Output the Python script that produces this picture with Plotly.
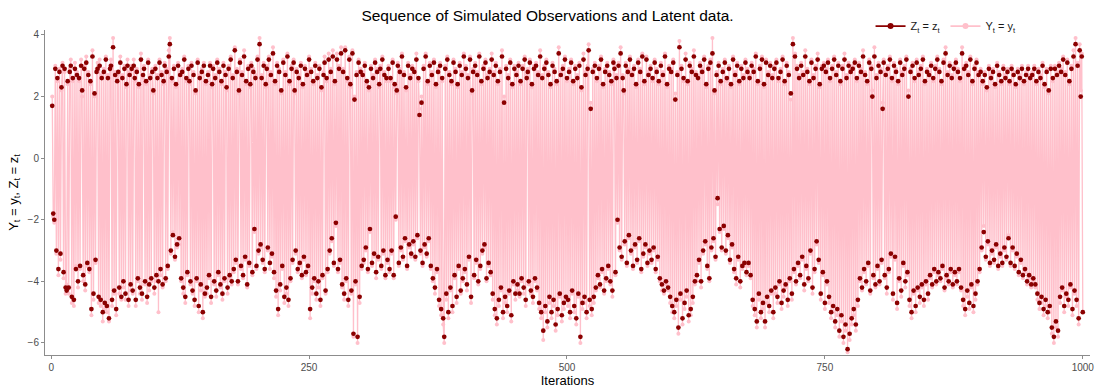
import plotly.graph_objects as go

# Latent states Z_t (dark red points), iterations 1..1000
z_latent = [
    1.7, -1.8, -2.0, 2.9, -3.0, 2.6, -3.6, 2.8, -3.1, 2.3, 3.0, -3.7, 2.9, -4.2, -4.3, 2.5, -4.2, 2.8, 3.0, -4.5, 2.6, -4.6, 2.9, -3.6, 2.7,
    -4.0, 2.6, -3.5, 3.0, 2.2, -3.8, 2.9, -4.1, 3.1, -3.4, 2.7, -3.6, 2.5, -4.9, 3.3, -4.4, 2.1, -3.3, 2.8, 2.9, -4.5, 3.0, -4.6, 2.6, -5.0,
    2.8, -4.7, 3.2, -4.8, 2.6, -5.2, 2.9, 3.0, -4.6, 3.6, -4.3, 2.7, -4.9, 2.5, 2.8, -4.2, 3.1, -4.5, 2.6, -4.0, 2.9, -4.4, 2.4, 3.0, -4.6,
    2.7, -4.1, 2.9, -4.3, 3.0, 2.6, -4.6, 2.8, -3.9, 2.4, -4.2, 3.2, -4.4, 2.7, 2.9, -4.0, 2.5, -4.5, 3.1, -4.1, 2.6, -3.9, 2.8, 2.2, -4.2,
    2.9, -3.8, 2.6, -4.0, 3.1, -3.6, 2.7, -4.1, 2.5, 3.0, -3.9, 2.8, -3.5, 3.3, 3.7, -3.0, 2.6, -2.5, 2.9, -3.2, 2.4, -2.8, 3.0, -2.6, 2.7,
    -3.9, 2.8, -4.2, 3.2, -4.5, 2.6, -3.7, 2.9, 2.5, -4.0, 3.0, -4.3, 2.7, -4.6, 2.2, -3.9, 3.1, -4.8, 2.6, -4.1, 2.8, -5.0, 3.0, -4.4, 2.5,
    -4.2, 2.7, -3.8, 3.0, -4.5, 2.4, 2.9, -4.0, 2.6, -4.3, 3.1, -3.7, 2.8, -4.1, 2.5, -4.4, 3.0, -3.9, 2.7, 2.3, -4.2, 2.9, -3.8, 3.2, -4.0,
    2.6, -3.6, 3.5, -3.3, 2.8, -4.0, 2.2, 3.1, -3.5, 2.7, -3.8, 3.3, -3.2, 2.5, -4.1, 2.9, -3.4, 2.4, 3.0, -3.7, 2.8, -2.3, 2.6, -3.5, 3.2,
    -3.0, 3.7, -2.8, 2.6, -3.3, 3.0, -3.6, 2.4, 2.9, -2.9, 3.2, -3.4, 2.7, -3.1, 3.4, -3.7, 2.5, -4.3, 3.0, -4.9, 2.8, -4.1, 2.2, -3.5, 3.1,
    -4.5, 2.7, -4.2, 3.3, -4.6, 2.5, -3.9, 2.9, -3.3, 3.1, 2.2, -3.0, 2.8, -3.6, 2.6, -3.4, 3.0, -3.8, 2.4, -3.2, 2.9, -3.7, 2.7, -3.5, 3.2,
    -4.9, 2.8, -4.2, 2.5, -3.9, 3.0, -4.4, 2.6, -4.0, 2.9, -4.6, 2.3, -3.8, 2.7, 3.1, -4.3, 2.6, -3.6, 3.2, -3.0, 2.8, -2.6, 3.3, -3.4, 2.5,
    -2.1, 3.2, -3.6, 2.9, -3.3, 3.4, -4.1, 2.8, -4.4, 3.5, -3.9, 2.6, -4.6, 3.2, 2.4, -4.3, 3.4, -5.7, 1.9, -4.0, 2.7, -5.8, 3.1, -4.5, 2.8,
    -3.5, 2.7, -3.3, 3.0, -2.9, 2.5, -3.6, 2.3, -2.3, 2.9, -3.4, 2.6, -3.1, 3.1, -3.7, 2.8, -3.2, 2.4, 2.9, -3.5, 3.2, -3.0, 2.7, -3.8, 2.6,
    -3.3, 2.9, -3.6, 2.6, -3.0, 3.1, -3.8, 2.4, -1.9, 2.2, 3.0, -3.4, 2.8, -2.9, 3.3, -3.2, 2.7, -2.6, 2.3, -3.5, 3.0, -2.8, 2.6, -3.1, 2.9,
    -2.7, 2.8, -3.2, 3.2, -2.5, 2.6, 1.4, -3.0, 1.8, -3.4, 2.9, -2.8, 3.3, -3.1, 2.5, -2.6, 3.0, -3.5, 2.7, -3.9, 3.1, -4.2, 2.4, -3.6, 2.8,
    -4.6, 3.0, -4.9, 2.6, -5.2, -5.8, 2.9, -4.4, 3.2, -5.0, 2.7, -4.2, 2.5, -4.8, 3.1, -3.8, 2.8, -4.5, 2.4, -3.5, 3.0, -4.3, 2.7, -3.9, 3.3,
    -3.6, 2.9, -4.1, 2.6, -3.2, 3.2, -4.5, 2.2, 2.8, -3.8, 3.0, -3.3, 2.7, -4.0, 3.3, -3.5, 2.5, -3.0, 2.9, -2.8, 3.1, -3.9, 2.6, -3.4, 2.8,
    -3.7, 3.2, -4.4, 2.7, -4.9, 3.0, -5.2, 2.5, -4.6, 2.8, -4.2, 3.3, -5.0, 1.8, -4.5, 2.9, -4.8, 2.6, -4.3, 3.1, -5.1, 2.4, -4.0, 2.9, -4.4,
    2.7, -4.1, 3.0, -4.4, 2.5, -3.9, 2.9, -4.2, 3.2, -4.6, 2.6, 2.8, -4.0, 3.1, -4.3, 2.4, -4.5, 2.9, -3.9, 3.0, -4.2, 2.7, -4.7, 3.3, -5.0,
    2.6, -5.6, 2.9, -4.8, 3.1, -5.3, 2.7, -4.5, 2.4, -5.0, 3.0, -4.6, 2.8, -5.4, 2.5, -4.9, 3.4, -4.4, 2.7, -5.1, 2.9, -4.7, 3.2, -4.5, 2.6,
    -4.6, 2.8, -5.0, 3.1, -4.3, 2.5, -4.8, 2.9, -5.2, 2.6, -4.4, 3.0, -5.8, 2.3, -4.7, 3.2, -4.5, 2.7, -5.0, 2.9, 3.5, -4.6, 1.6, -4.9, 2.8,
    -4.5, 3.0, -4.2, 2.6, -3.8, 2.9, -4.1, 3.2, -3.6, 2.4, -4.3, 2.8, -3.9, 3.0, -3.5, 2.7, -4.0, 2.5, -4.3, 3.1, 2.9, -3.7, 2.6, -2.0, 3.0,
    -2.9, 3.4, -3.2, 2.6, 2.2, -2.7, 3.0, -3.4, 2.8, -2.5, 3.2, -3.0, 2.7, -3.5, 2.9, -2.8, 2.4, -3.3, 3.1, -2.6, 2.8, -3.6, 3.3, -3.1, 2.5,
    -2.8, 3.2, -3.4, 2.7, -3.0, 2.9, -3.3, 2.6, -2.9, 3.1, -3.6, 2.8, -3.2, 2.5, -3.9, 3.0, -4.1, 2.7, -4.3, 3.3, -4.0, 2.4, -4.2, 2.9, -4.5,
    2.8, -4.8, 3.1, -5.0, 1.9, -4.6, 2.7, -5.5, 3.6, -4.4, 2.9, -5.2, 2.6, -4.7, 3.2, -4.3, 2.5, -5.1, 3.0, -4.9, 2.8, -4.5, 3.3, -4.0, 2.7,
    -3.8, 2.6, -3.3, 3.0, -4.0, 2.8, -3.0, 3.2, -2.7, 2.4, -3.5, 2.9, -3.9, 3.1, -2.9, 3.4, -2.6, 2.2, -3.2, 2.7, -1.3, 3.0, -2.3, 2.5, -2.9,
    2.8, -2.2, 3.1, -3.0, 2.6, -2.5, 2.9, -3.3, 2.4, -2.8, 3.2, -3.6, 2.7, -3.9, 3.0, -3.2, 2.5, -4.0, 2.9, -3.5, 2.6, -3.4, 3.1, -3.7, 2.8,
    -3.4, 2.6, -3.8, 3.0, -4.6, 2.8, -4.9, 3.3, -5.3, 2.5, -4.4, 2.9, -5.0, 3.2, -4.7, 2.4, -5.3, 3.1, -4.5, 2.7, -4.8, 3.0, -4.3, 2.6, -5.0,
    2.9, -4.2, 3.1, -4.5, 2.6, -4.0, 2.8, -4.7, 3.2, -4.3, 2.5, -4.1, 3.0, -4.6, 2.7, -3.9, 2.1, -4.4, 3.7, -3.6, 3.3, -4.0, 2.9, -3.4, 2.6,
    -3.8, 3.0, -3.2, 2.7, -4.1, 3.3, -3.5, 2.8, -3.9, 2.5, -3.0, 3.1, -4.2, 2.6, -3.6, 2.9, -2.7, 3.2, -3.3, 2.4, -4.4, 2.9, -3.7, 3.0, -4.7,
    2.8, -4.0, 3.1, -4.5, 2.6, -5.0, 2.9, -4.8, 3.2, -5.3, 2.7, -4.9, 3.0, -5.6, 2.5, -5.1, 2.9, -5.8, 3.2, -5.4, 2.6, -6.2, 3.0, -5.7, 2.8,
    -5.2, 2.9, -4.9, 3.1, -5.4, 2.6, -4.6, 3.0, -3.9, 2.8, -4.2, 3.3, -3.6, 2.7, -4.0, 2.5, -3.4, 3.1, -4.3, 2.9, 2.0, -3.8, 3.3, -4.1, 2.6,
    -3.5, 3.0, -4.0, 2.8, -3.3, 1.6, 3.1, -3.8, 2.7, -4.2, 2.9, -3.6, 3.2, -3.1, 2.6, -4.4, 3.0, -3.2, 2.8, -4.7, 2.5, -3.9, 3.1, -4.3, 2.7,
    -3.4, 2.9, -4.0, 3.2, -3.7, 2.0, -4.6, 2.8, -5.0, 3.0, -4.3, 2.6, -4.8, 3.1, -4.2, 2.7, -4.5, 2.9, -4.1, 3.2, -4.6, 2.5, -4.0, 2.8, -4.4,
    2.7, -3.8, 3.0, -4.1, 2.6, -3.6, 2.9, -4.0, 3.2, -3.7, 2.8, -3.9, 2.5, -3.5, 3.1, -4.2, 3.4, -3.8, 2.7, -4.0, 3.0, -3.6, 2.6, -4.1, 2.9,
    -3.7, 3.1, -4.0, 2.8, -3.6, 2.6, -4.2, 3.4, -4.6, 2.9, -4.9, 3.0, -4.3, 2.7, -4.7, 3.2, -4.1, 2.5, -4.8, 2.9, -4.4, 3.1, -4.0, 2.7, -3.6,
    2.8, -2.9, 2.5, -2.4, 2.7, -3.2, 2.3, -2.7, 2.9, -3.4, 2.6, -3.0, 2.8, -3.3, 2.4, -2.8, 3.0, -3.5, 2.7, -3.1, 2.5, -3.4, 2.9, -2.9, 2.6,
    -3.2, 2.8, -2.6, 2.5, -3.4, 2.9, -2.9, 2.7, -3.5, 2.4, -3.1, 2.8, -3.7, 2.6, -3.3, 2.9, -3.8, 2.5, -3.6, 2.7, -4.0, 2.9, -3.8, 2.6, -4.1,
    2.7, -3.9, 2.9, -4.1, 2.5, -4.4, 2.8, -4.7, 2.6, -4.5, 3.0, -4.9, 2.4, -4.6, 2.8, -5.0, 2.2, -4.8, 2.9, -5.5, 2.6, -5.8, 2.9, -5.3, 2.7,
    -5.6, 3.0, -4.5, 2.8, -4.2, 3.2, -4.8, 2.7, -4.4, 3.1, -4.6, 2.5, -4.1, 2.9, -4.9, 3.3, -4.3, 3.7, -4.6, 3.0, -5.2, 3.5, 2.0, 3.3, -5.0,
]

# Observations Y_t (pink line with points), iterations 1..1000
y_observed = [
    2.0, -1.9, -2.1, 3.0, -3.1, 2.5, -3.8, 2.9, -3.3, 2.2, 3.1, -3.9, 2.8, -4.4, -4.1, 2.4, -4.4, 2.9, 3.2, -4.7, 2.5, -4.8, 3.1, -3.5, 2.8,
    -4.2, 2.5, -3.6, 3.2, 2.0, -4.0, 3.0, -4.3, 3.3, -3.5, 2.8, -3.7, 2.4, -5.1, 3.5, -4.6, 2.0, -3.4, 2.9, 3.1, -4.7, 3.2, -4.8, 2.7, -5.3,
    2.9, -4.9, 3.3, -5.0, 2.7, -5.3, 3.0, 3.2, -4.8, 3.9, -4.4, 2.8, -5.1, 2.6, 2.7, -4.4, 3.3, -4.6, 2.7, -4.2, 3.0, -4.6, 2.3, 3.2, -4.8,
    2.8, -4.3, 3.0, -4.4, 3.2, 2.5, -4.8, 2.9, -4.0, 2.3, -4.4, 3.4, -4.6, 2.6, 3.0, -4.1, 2.4, -4.7, 3.2, -4.3, 2.7, -4.0, 2.9, 2.1, -4.4,
    3.0, -4.0, 2.7, -5.0, 3.2, -3.8, 2.8, -4.2, 2.4, 3.1, -4.0, 2.9, -3.6, 3.5, 3.9, -3.1, 2.5, -2.4, 3.0, -3.3, 2.3, -2.9, 3.1, -2.8, 2.8,
    -4.0, 2.9, -4.4, 3.3, -4.7, 2.5, -3.8, 3.0, 2.4, -4.1, 3.1, -4.4, 2.8, -4.8, 2.1, -4.0, 3.2, -5.0, 2.7, -4.3, 2.9, -5.2, 3.1, -4.5, 2.4,
    -4.4, 2.8, -3.9, 3.1, -4.7, 2.3, 3.0, -4.1, 2.7, -4.5, 3.2, -3.8, 2.9, -4.2, 2.4, -4.6, 3.1, -4.0, 2.8, 2.2, -4.4, 3.0, -3.9, 3.3, -4.1,
    2.7, -3.7, 3.6, -3.4, 2.9, -4.1, 2.1, 3.2, -3.6, 2.8, -3.9, 3.5, -3.3, 2.4, -4.2, 3.0, -3.5, 2.3, 3.1, -3.8, 2.9, -2.4, 2.7, -3.6, 3.3,
    -3.1, 3.9, -2.9, 2.7, -3.4, 3.1, -3.7, 2.3, 3.0, -3.0, 3.3, -3.6, 2.8, -3.2, 3.6, -3.9, 2.4, -4.5, 3.1, -5.1, 2.9, -4.3, 2.1, -3.6, 3.2,
    -4.7, 2.8, -4.4, 3.4, -4.8, 2.4, -4.0, 3.0, -3.4, 3.2, 2.1, -3.1, 2.9, -3.7, 2.7, -3.5, 3.1, -3.9, 2.3, -3.3, 3.0, -3.8, 2.8, -3.6, 3.3,
    -5.2, 2.9, -4.4, 2.4, -4.0, 3.1, -4.6, 2.7, -4.2, 3.0, -4.8, 2.2, -3.9, 2.8, 3.3, -4.4, 2.5, -3.7, 3.4, -3.1, 2.9, -2.7, 3.5, -3.5, 2.4,
    -2.2, 3.4, -3.7, 3.0, -3.4, 3.6, -4.2, 2.9, -4.6, 3.6, -4.0, 2.5, -4.8, 3.3, 2.3, -4.4, 3.5, -5.8, 2.0, -4.1, 2.8, -6.0, 3.2, -4.7, 2.9,
    -3.6, 2.8, -3.4, 3.1, -3.0, 2.4, -3.7, 2.2, -2.4, 3.0, -3.5, 2.7, -3.2, 3.2, -3.9, 2.9, -3.3, 2.3, 3.0, -3.6, 3.3, -3.1, 2.8, -3.9, 2.5,
    -3.4, 3.0, -3.7, 2.5, -3.1, 3.2, -3.9, 2.3, -2.0, 2.1, 3.1, -3.5, 2.9, -3.0, 3.4, -3.3, 2.8, -2.7, 2.2, -3.6, 3.1, -2.9, 2.7, -3.2, 3.0,
    -2.8, 2.9, -3.3, 3.4, -2.6, 2.5, 1.6, -3.1, 2.0, -3.5, 3.0, -2.9, 3.4, -3.2, 2.4, -2.7, 3.1, -3.6, 2.8, -4.0, 3.2, -4.4, 2.3, -3.7, 2.9,
    -4.8, 3.1, -5.1, 2.5, -5.4, -6.0, 3.0, -4.6, 3.3, -5.2, 2.8, -4.3, 2.4, -5.0, 3.2, -3.9, 2.9, -4.7, 2.3, -3.6, 3.1, -4.4, 2.8, -4.0, 3.4,
    -3.7, 3.0, -4.3, 2.7, -3.3, 3.3, -4.7, 2.1, 2.9, -3.9, 3.1, -3.4, 2.8, -4.1, 3.4, -3.6, 2.4, -3.1, 3.0, -2.9, 3.2, -4.0, 2.7, -3.5, 2.9,
    -3.8, 3.4, -4.6, 2.8, -5.1, 3.1, -5.4, 2.4, -4.8, 2.9, -4.3, 3.5, -5.2, 2.0, -4.7, 3.0, -5.0, 2.7, -4.4, 3.2, -5.3, 2.3, -4.1, 3.0, -4.6,
    2.8, -4.3, 3.1, -4.5, 2.4, -4.0, 3.0, -4.4, 3.3, -4.8, 2.7, 2.9, -4.1, 3.2, -4.4, 2.3, -4.7, 3.0, -4.0, 3.1, -4.3, 2.8, -4.9, 3.5, -5.2,
    2.7, -5.9, 3.0, -5.0, 3.2, -5.5, 2.8, -4.7, 2.3, -5.2, 3.1, -4.8, 2.9, -5.6, 2.4, -5.1, 3.6, -4.5, 2.8, -5.3, 3.0, -4.9, 3.3, -4.6, 2.5,
    -4.8, 2.9, -5.2, 3.2, -4.4, 2.4, -5.0, 3.0, -5.4, 2.7, -4.5, 3.1, -6.0, 2.2, -4.9, 3.4, -4.7, 2.8, -5.2, 3.0, 3.7, -4.8, 1.8, -5.1, 2.9,
    -4.7, 3.1, -4.3, 2.5, -3.9, 3.0, -4.2, 3.3, -3.7, 2.3, -4.4, 2.9, -4.0, 3.1, -3.6, 2.8, -4.1, 2.4, -4.5, 3.2, 3.0, -3.8, 2.7, -2.1, 3.1,
    -3.0, 3.6, -3.3, 2.7, 2.1, -2.8, 3.1, -3.5, 2.9, -2.6, 3.3, -3.1, 2.8, -3.6, 3.0, -2.9, 2.3, -3.4, 3.2, -2.7, 2.9, -3.7, 3.4, -3.2, 2.4,
    -2.9, 3.3, -3.5, 2.8, -3.1, 3.0, -3.4, 2.5, -3.0, 3.2, -3.7, 2.9, -3.3, 2.4, -4.0, 3.1, -4.3, 2.8, -4.4, 3.4, -4.1, 2.3, -4.3, 3.0, -4.7,
    2.9, -5.0, 3.2, -5.2, 2.1, -4.8, 2.8, -5.7, 3.8, -4.6, 3.0, -5.4, 2.5, -4.9, 3.4, -4.5, 2.4, -5.3, 3.1, -5.1, 2.9, -4.7, 3.5, -4.1, 2.8,
    -4.0, 2.7, -3.4, 3.1, -4.2, 2.9, -3.1, 3.3, -2.8, 2.3, -3.6, 3.0, -4.0, 3.2, -3.0, 3.9, -2.7, 2.1, -3.3, 2.8, -1.5, 3.1, -2.4, 2.4, -3.0,
    2.9, -2.3, 3.2, -3.1, 2.5, -2.6, 3.0, -3.4, 2.3, -2.9, 3.3, -3.7, 2.8, -4.1, 3.1, -3.3, 2.4, -4.2, 3.0, -3.6, 2.7, -3.5, 3.2, -3.8, 2.9,
    -3.5, 2.7, -3.9, 3.1, -4.8, 2.9, -5.1, 3.4, -5.5, 2.4, -4.6, 3.0, -5.2, 3.3, -4.9, 2.3, -5.5, 3.2, -4.7, 2.8, -5.0, 3.1, -4.4, 2.7, -5.2,
    3.0, -4.4, 3.2, -4.7, 2.5, -4.1, 2.9, -4.9, 3.3, -4.5, 2.4, -4.2, 3.1, -4.8, 2.8, -4.0, 1.9, -4.6, 3.9, -3.7, 3.4, -4.1, 3.0, -3.5, 2.7,
    -3.9, 3.1, -3.3, 2.8, -4.3, 3.5, -3.6, 2.9, -4.0, 2.4, -3.1, 3.2, -4.4, 2.7, -3.7, 3.0, -2.8, 3.4, -3.4, 2.3, -4.6, 3.0, -3.8, 3.1, -4.9,
    2.9, -4.1, 3.2, -4.7, 2.5, -5.2, 3.0, -5.0, 3.3, -5.5, 2.8, -5.1, 3.1, -5.8, 2.4, -5.3, 3.0, -6.0, 3.4, -5.6, 2.7, -6.3, 3.1, -5.9, 2.9,
    -5.4, 3.0, -5.1, 3.2, -5.6, 2.5, -4.8, 3.1, -4.0, 2.9, -4.3, 3.5, -3.7, 2.8, -4.1, 2.4, -3.5, 3.2, -4.4, 3.0, 2.2, -3.9, 3.6, -4.2, 2.7,
    -3.6, 3.1, -4.1, 2.9, -3.4, 1.8, 3.2, -3.9, 2.8, -4.4, 3.0, -3.7, 3.3, -3.2, 2.5, -4.6, 3.1, -3.3, 2.9, -4.9, 2.4, -4.0, 3.2, -4.5, 2.8,
    -3.5, 3.0, -4.2, 3.3, -3.8, 2.2, -4.8, 2.9, -5.2, 3.1, -4.4, 2.5, -5.0, 3.2, -4.3, 2.8, -4.7, 3.0, -4.2, 3.3, -4.8, 2.4, -4.1, 2.9, -4.6,
    2.8, -3.9, 3.1, -4.2, 2.5, -3.7, 3.0, -4.1, 3.3, -3.8, 2.9, -4.0, 2.4, -3.6, 3.2, -4.3, 3.6, -3.9, 2.8, -4.1, 3.1, -3.7, 2.7, -4.2, 3.0,
    -3.8, 3.2, -4.1, 2.9, -3.7, 2.5, -4.3, 3.6, -4.8, 3.0, -5.1, 3.1, -4.5, 2.8, -4.9, 3.3, -4.2, 2.4, -5.0, 3.0, -4.6, 3.2, -4.1, 2.8, -3.7,
    2.9, -3.0, 2.4, -2.2, 2.8, -3.3, 2.2, -2.8, 3.0, -3.5, 2.7, -3.1, 2.9, -3.4, 2.3, -2.9, 3.1, -3.6, 2.8, -3.2, 2.4, -3.5, 3.0, -3.0, 2.7,
    -3.3, 2.9, -2.5, 2.4, -3.5, 3.0, -3.0, 2.8, -3.6, 2.3, -3.2, 2.9, -3.8, 2.7, -3.4, 3.0, -3.9, 2.4, -3.7, 2.8, -4.1, 3.0, -3.9, 2.7, -4.2,
    2.8, -4.0, 3.0, -4.2, 2.4, -4.6, 2.9, -4.9, 2.7, -4.7, 3.1, -5.1, 2.3, -4.8, 2.9, -5.2, 2.1, -5.0, 3.0, -5.7, 2.5, -6.0, 3.0, -5.5, 2.8,
    -5.8, 3.1, -4.7, 2.9, -4.3, 3.3, -5.0, 2.8, -4.5, 3.2, -4.8, 2.4, -4.2, 3.0, -5.1, 3.5, -4.4, 3.9, -4.8, 3.1, -5.4, 3.7, 2.2, 3.4, -5.0,
]

iter_y = list(range(1, len(y_observed) + 1))
iter_z = list(range(1, len(z_latent) + 1))

PINK = "#FFC0CB"
DARKRED = "#8B0000"
FONT = "Liberation Sans, Arial, sans-serif"

fig = go.Figure()

# observations: pink line with points
fig.add_trace(go.Scatter(
    x=iter_y, y=y_observed, mode="lines+markers",
    line=dict(color=PINK, width=1.3),
    marker=dict(color=PINK, size=4),
    showlegend=False, hoverinfo="skip",
))

# latent states: dark red points
fig.add_trace(go.Scatter(
    x=iter_z, y=z_latent, mode="markers",
    marker=dict(color=DARKRED, size=4.7),
    showlegend=False, hoverinfo="skip",
))

# legend keys (line + point glyphs)
fig.add_trace(go.Scatter(
    x=[None], y=[None], mode="lines+markers",
    line=dict(color=DARKRED, width=1.6), marker=dict(color=DARKRED, size=6),
    name="Z<sub>t</sub> = z<sub>t</sub>",
))
fig.add_trace(go.Scatter(
    x=[None], y=[None], mode="lines+markers",
    line=dict(color=PINK, width=1.6), marker=dict(color=PINK, size=6),
    name="Y<sub>t</sub> = y<sub>t</sub>",
))

fig.update_layout(
    width=1095, height=392,
    margin=dict(l=45, r=5, t=30, b=37, autoexpand=False),
    paper_bgcolor="white", plot_bgcolor="white",
    font=dict(family=FONT, color="#1a1a1a"),
    title=dict(
        text="Sequence of Simulated Observations and Latent data.",
        x=0.5, xanchor="center", y=0.975, yanchor="top",
        font=dict(size=15.5, color="#000000", family=FONT),
    ),
    legend=dict(
        orientation="h", x=0.79, xanchor="left", y=1.012, yanchor="middle",
        font=dict(size=11, color="#1a1a1a"),
        bgcolor="rgba(0,0,0,0)", itemwidth=30,
        tracegroupgap=0,
    ),
    xaxis=dict(
        range=[-6, 1007],
        tickvals=[0, 250, 500, 750, 1000],
        showgrid=False, zeroline=False,
        showline=True, linecolor="#8c8c8c", linewidth=1,
        ticks="outside", ticklen=3, tickcolor="#8c8c8c",
        tickfont=dict(size=10, color="#4d4d4d"),
        title=dict(text="Iterations", font=dict(size=13, color="#000000"), standoff=2),
    ),
    yaxis=dict(
        range=[-6.39, 4.16],
        tickvals=[-6, -4, -2, 0, 2, 4],
        showgrid=False, zeroline=False,
        showline=True, linecolor="#8c8c8c", linewidth=1,
        ticks="outside", ticklen=3, tickcolor="#8c8c8c",
        tickfont=dict(size=10, color="#4d4d4d"),
        title=dict(
            text="Y<sub>t</sub> = y<sub>t</sub>, Z<sub>t</sub> = z<sub>t</sub>",
            font=dict(size=13, color="#000000"), standoff=6,
        ),
    ),
)

fig.write_html("out.html")
